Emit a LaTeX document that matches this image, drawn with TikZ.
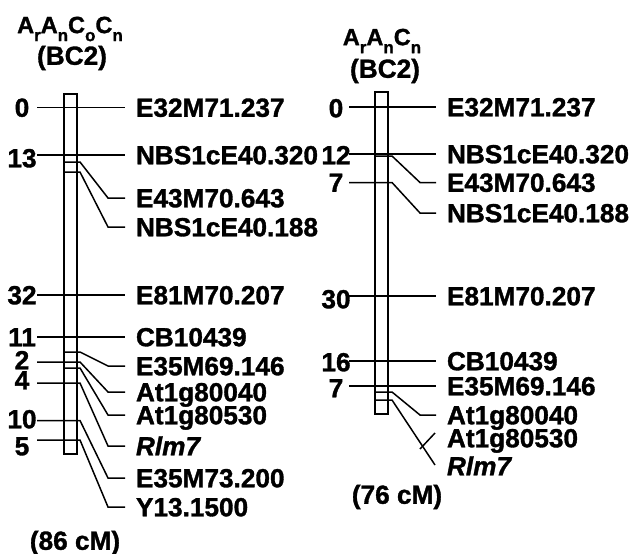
\documentclass[tikz,border=0pt]{standalone}
\usepackage{fontspec}
\setmainfont{Liberation Sans}[UprightFont={* Bold},ItalicFont={* Bold Italic},BoldFont={* Bold},BoldItalicFont={* Bold Italic},FakeBold=1.3]
\newcommand\subx[1]{\raisebox{-8pt}{\fontsize{17}{17}\selectfont #1}}
\begin{document}
\begin{tikzpicture}[x=1pt,y=-1pt,line width=1.5pt,
  lab/.style={anchor=west,inner xsep=0pt,inner ysep=0pt,outer xsep=11pt,outer ysep=0pt,
    text height=18.5pt,text depth=0pt,font=\fontsize{26.2}{27}\selectfont\bfseries},
  num/.style={anchor=center,inner sep=0pt,text height=18.5pt,text depth=0pt,
    font=\fontsize{26.2}{27}\selectfont\bfseries},
  ttl/.style={anchor=center,inner sep=0pt,font=\fontsize{23.5}{24}\selectfont\bfseries},
  bc/.style={anchor=center,inner sep=0pt,font=\fontsize{26.2}{27}\selectfont\bfseries},
  chrom/.style={draw,rectangle,inner sep=0pt,minimum width=13pt,line width=1.5pt}]
\useasboundingbox (0,0) rectangle (630,554);

% ---------------- left map ----------------
\node[ttl] (t1) at (70,29) {A\subx{r}A\subx{n}C\subx{o}C\subx{n}};
\node[bc] (b1) at (72,58) {(BC2)};
\node[chrom,minimum height=360pt] (C1) at (70.5,274) {};
\node[bc] (cm1) at (75,543) {(86 cM)};

% numbers
\node[num] (n1a) at (22,107.5) {0};
\node[num] (n1b) at (22,158) {13};
\node[num] (n1c) at (22,295) {32};
\node[num] (n1d) at (22,337) {11};
\node[num] (n1e) at (22,360) {2};
\node[num] (n1f) at (22,380) {4};
\node[num] (n1g) at (22,419) {10};
\node[num] (n1h) at (22,446) {5};

% labels
\node[lab] (l1a) at (125,107.5) {E32M71.237};
\node[lab] (l1b) at (125,155) {NBS1cE40.320};
\node[lab] (l1c) at (125,198) {E43M70.643};
\node[lab] (l1d) at (125,227) {NBS1cE40.188};
\node[lab] (l1e) at (125,295) {E81M70.207};
\node[lab] (l1f) at (125,337) {CB10439};
\node[lab] (l1g) at (125,366) {E35M69.146};
\node[lab] (l1h) at (125,392) {At1g80040};
\node[lab] (l1i) at (125,415) {At1g80530};
\node[lab] (l1j) at (125,446) {\itshape Rlm7};
\node[lab] (l1k) at (125,478) {E35M73.200};
\node[lab] (l1l) at (125,507) {Y13.1500};

% line starts
\coordinate (s1a) at (37,107.5);
\coordinate (s1b) at (37,155);
\coordinate (s1c) at (64,162);
\coordinate (s1d) at (64,172);
\coordinate (s1e) at (37,295);
\coordinate (s1f) at (37,337);
\coordinate (s1g) at (64,352);
\coordinate (s1h) at (37,362);
\coordinate (s1i) at (64,368);
\coordinate (s1j) at (37,383);
\coordinate (s1k) at (37,420.5);
\coordinate (s1l) at (37,440);

\draw (s1a) -- (l1a.west);
\draw (s1b) -- (l1b.west);
\draw (s1c) -- (80,162) -- (108,198) -- (l1c.west);
\draw (s1d) -- (80,172) -- (108,227) -- (l1d.west);
\draw (s1e) -- (l1e.west);
\draw (s1f) -- (l1f.west);
\draw (s1g) -- (80,352) -- (108,366) -- (l1g.west);
\draw (s1h) -- (80,362) -- (108,392) -- (l1h.west);
\draw (s1i) -- (80,368) -- (108,415) -- (l1i.west);
\draw (s1j) -- (80,383) -- (108,446) -- (l1j.west);
\draw (s1k) -- (80,420.5) -- (108,478) -- (l1k.west);
\draw (s1l) -- (80,440) -- (108,507) -- (l1l.west);

% ---------------- right map ----------------
\node[ttl] (t2) at (382,41) {A\subx{r}A\subx{n}C\subx{n}};
\node[bc] (b2) at (385,71) {(BC2)};
\node[chrom,minimum height=322pt] (C2) at (381.5,253) {};
\node[bc] (cm2) at (397,497) {(76 cM)};

\node[num] (n2a) at (336,108) {0};
\node[num] (n2b) at (336,155) {12};
\node[num] (n2c) at (336,182.5) {7};
\node[num] (n2d) at (336,299) {30};
\node[num] (n2e) at (336,362) {16};
\node[num] (n2f) at (336,388) {7};

\node[lab] (l2a) at (436,107) {E32M71.237};
\node[lab] (l2b) at (436,154) {NBS1cE40.320};
\node[lab] (l2c) at (436,182.5) {E43M70.643};
\node[lab] (l2d) at (436,213) {NBS1cE40.188};
\node[lab] (l2e) at (436,296) {E81M70.207};
\node[lab] (l2f) at (436,361) {CB10439};
\node[lab] (l2g) at (436,386) {E35M69.146};
\node[lab] (l2h) at (436,415) {At1g80040};
\node[lab] (l2i) at (436,438) {At1g80530};
\node[lab] (l2j) at (436,466) {\itshape Rlm7};

\coordinate (s2a) at (349,107);
\coordinate (s2b) at (349,154);
\coordinate (s2c) at (375,156);
\coordinate (s2d) at (349,182.5);
\coordinate (s2e) at (349,296);
\coordinate (s2f) at (349,361);
\coordinate (s2g) at (349,386);
\coordinate (s2h) at (375,392);
\coordinate (s2j) at (375,400);
\coordinate (s2i) at (420,449);
\coordinate (r7) at (435,465);

\draw (s2a) -- (l2a.west);
\draw (s2b) -- (l2b.west);
\draw (s2c) -- (392,156) -- (420,182.5) -- (l2c.west);
\draw (s2d) -- (392,182.5) -- (420,213) -- (l2d.west);
\draw (s2e) -- (l2e.west);
\draw (s2f) -- (l2f.west);
\draw (s2g) -- (l2g.west);
\draw (s2h) -- (392,392) -- (420,415) -- (l2h.west);
\draw (s2j) -- (392,400) -- (r7);
\draw (s2i) -- (435,433);
\end{tikzpicture}
\end{document}
